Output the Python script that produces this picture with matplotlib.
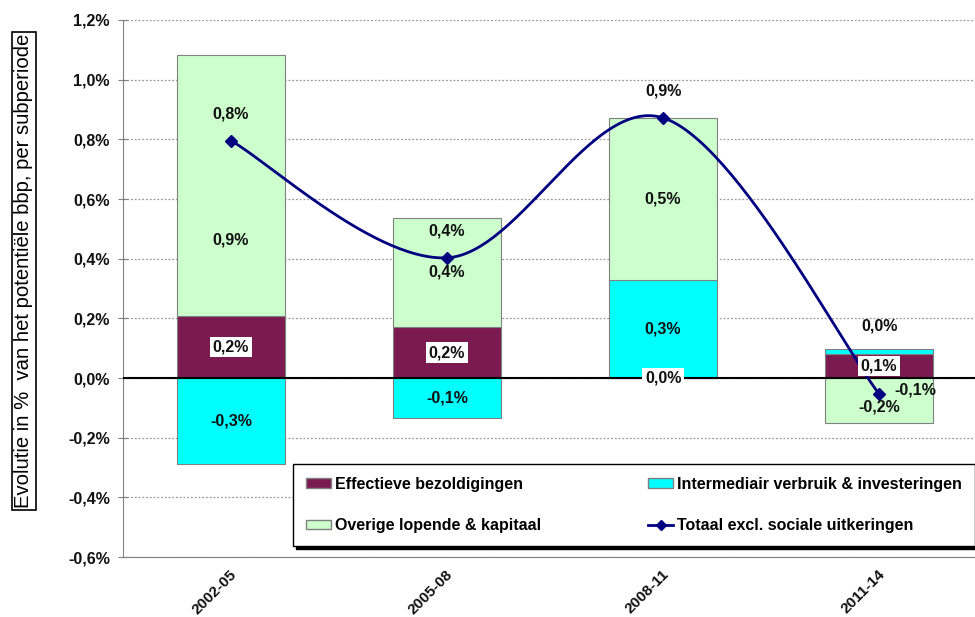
import matplotlib.pyplot as plt
import numpy as np
from matplotlib.patches import Patch
from matplotlib.lines import Line2D
from matplotlib.ticker import FuncFormatter, MultipleLocator

plt.rcParams['font.family'] = ['Liberation Sans', 'DejaVu Sans']

periods = ["2002-05", "2005-08", "2008-11", "2011-14"]
bezoldigingen = [0.208, 0.171, 0.0, 0.080]
verbruik = [-0.289, -0.134, 0.329, 0.018]
overige = [0.876, 0.366, 0.543, -0.151]
totaal = [b + v + o for b, v, o in zip(bezoldigingen, verbruik, overige)]

names = ["Effectieve bezoldigingen", "Intermediair verbruik & investeringen",
         "Overige lopende & kapitaal", "Totaal excl. sociale uitkeringen"]
colors = ["#7b1a4f", "#00ffff", "#ccffcc"]
line_color = "#000080"


def pct(v):
    return f"{v:.1f}%".replace(".", ",")


def smooth(xs, ys, n=60):
    # bezier smoothing between points, like a spreadsheet "smoothed line"
    pts = np.column_stack([xs, ys]).astype(float)
    ext = np.vstack([pts[0], pts, pts[-1]])
    out = []
    t = np.linspace(0, 1, n)[:, None]
    for i in range(len(pts) - 1):
        p0, p1, p2, p3 = ext[i], ext[i + 1], ext[i + 2], ext[i + 3]
        c1 = p1 + (p2 - p0) / 6
        c2 = p2 - (p3 - p1) / 6
        seg = ((1 - t) ** 3 * p1 + 3 * (1 - t) ** 2 * t * c1
               + 3 * (1 - t) * t ** 2 * c2 + t ** 3 * p2)
        out.append(seg if i == 0 else seg[1:])
    out = np.vstack(out)
    return out[:, 0], out[:, 1]


fig = plt.figure(figsize=(9.75, 6.17), dpi=100)
ax = fig.add_axes([0.1262, 0.0972, 0.8862, 0.8704])

x = np.arange(len(periods))
width = 0.5
pos_base = np.zeros(len(x))
neg_base = np.zeros(len(x))
segments = []
for vals, col in zip([bezoldigingen, verbruik, overige], colors):
    vals = np.array(vals)
    base = np.where(vals >= 0, pos_base, neg_base)
    ax.bar(x, vals, width, bottom=base, color=col, edgecolor="#808080",
           linewidth=0.8, zorder=2)
    segments.append(base + vals / 2)
    pos_base = pos_base + np.clip(vals, 0, None)
    neg_base = neg_base + np.clip(vals, None, 0)

lx, ly = smooth(x, totaal)
ax.plot(lx, ly, color=line_color, linewidth=2, zorder=4)
ax.plot(x, totaal, linestyle="none", marker="D", markersize=6,
        color=line_color, zorder=5)

lab = dict(fontsize=11.5, fontweight="bold", ha="center", va="center",
           color="#111111", zorder=6)
for i in x:
    ax.text(i, segments[0][i], pct(bezoldigingen[i]),
            bbox=dict(facecolor="white", edgecolor="none", pad=2), **lab)
    dy_v = 0.085 if i == 3 else 0
    ax.text(i, segments[1][i] + dy_v, pct(verbruik[i]), **lab)
    dy_o = {0: -0.183, 3: -0.022}.get(i, 0)
    ax.text(i, segments[2][i] + dy_o, pct(overige[i]), **lab)
    off = (26, 3) if i == 3 else (0, 19)
    ax.annotate(pct(totaal[i]), (i, totaal[i]), xytext=off,
                textcoords="offset points", **lab)

ax.set_xlim(-0.5, 3.5)
ax.set_ylim(-0.6, 1.2)
ax.yaxis.set_major_locator(MultipleLocator(0.2))
ax.yaxis.set_major_formatter(FuncFormatter(lambda v, p: pct(v)))
ax.grid(axis="y", color="#9a9a9a", linestyle=(0, (1.5, 1.5)), linewidth=0.9,
        zorder=0)
ax.axhline(0, color="black", linewidth=1.5, zorder=3)
for s in ["top", "right"]:
    ax.spines[s].set_visible(False)
for s in ["left", "bottom"]:
    ax.spines[s].set_color("#808080")
ax.tick_params(axis="y", colors="#808080", labelcolor="#111111",
               labelsize=11.5, length=7, direction="inout", pad=6)
ax.tick_params(axis="x", length=0)
ax.set_xticks(x)
ax.set_xticklabels([])
for i, p in zip(x, periods):
    ax.annotate(p, (i + 0.015, -0.6), xytext=(0, -11), textcoords="offset points",
                rotation=45, rotation_mode="anchor", ha="right", va="center",
                fontsize=11, fontweight="bold", color="#111111",
                annotation_clip=False)
for t in ax.get_yticklabels():
    t.set_fontweight("bold")

fig.text(24 / 975, 1 - 271 / 617,
         "Evolutie in %  van het potentiële bbp, per subperiode",
         rotation=90, ha="center", va="center", fontsize=14.6,
         bbox=dict(facecolor="white", edgecolor="black", linewidth=1.2, pad=1.5))

handles = [Patch(facecolor=colors[0], edgecolor="#808080"),
           Patch(facecolor=colors[2], edgecolor="#808080"),
           Patch(facecolor=colors[1], edgecolor="#808080"),
           Line2D([], [], color=line_color, linewidth=2, marker="D",
                  markersize=5)]
leg = ax.legend(handles, [names[0], names[2], names[1], names[3]], ncol=2,
                loc="upper left", mode="expand",
                bbox_to_anchor=(293 / 975, 1 - 544 / 617, 682 / 975, 80 / 617),
                bbox_transform=fig.transFigure,
                prop=dict(weight="bold", size=11.5), frameon=True,
                fancybox=False, shadow=dict(color="black", alpha=1),
                handlelength=1.56, handleheight=0.55, handletextpad=0.25,
                labelspacing=1.64, borderpad=0.8, borderaxespad=0)
leg.get_frame().set_edgecolor("black")
leg.get_frame().set_linewidth(1.0)
leg.set_zorder(7)

fig.savefig("out.png", dpi=100)
